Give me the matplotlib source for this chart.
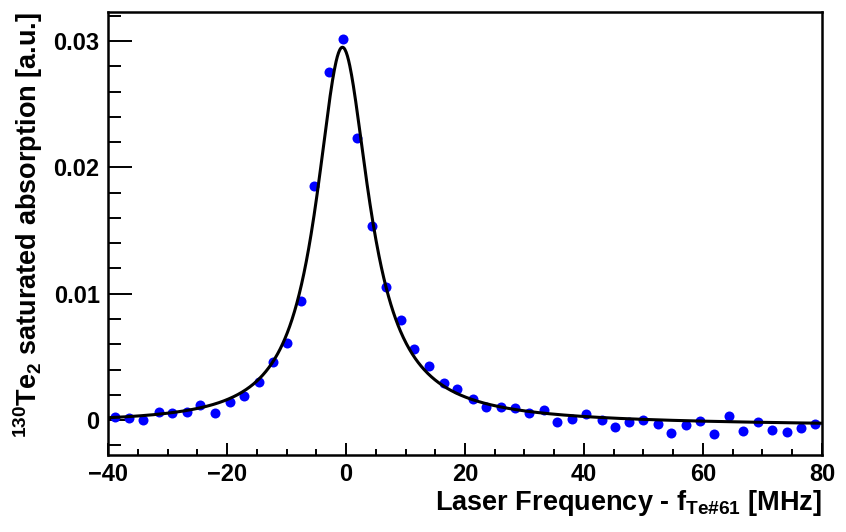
import numpy as np
import matplotlib
matplotlib.use("Agg")
import matplotlib.pyplot as plt
from matplotlib.ticker import MultipleLocator

# Measured saturated-absorption spectrum
freq_mhz = [-38.8, -36.4, -34.1, -31.5, -29.2, -26.8, -24.5, -22.0, -19.5, -17.1,
            -14.7, -12.3, -10.0, -7.6, -5.4, -2.86, -0.45, 1.9, 4.4, 6.7,
            9.2, 11.5, 13.9, 16.4, 18.7, 21.3, 23.6, 26.0, 28.4, 30.8,
            33.2, 35.5, 38.0, 40.3, 43.0, 45.2, 47.6, 50.0, 52.4, 54.7,
            57.1, 59.5, 61.9, 64.4, 66.8, 69.3, 71.6, 74.1, 76.4, 78.8]
absorption = [0.00026, 0.00018, 0.00000, 0.00065, 0.00053, 0.00065, 0.00120, 0.00058, 0.00140, 0.00190,
              0.00301, 0.00457, 0.00612, 0.00942, 0.01853, 0.02753, 0.03017, 0.02230, 0.01536, 0.01050,
              0.00792, 0.00560, 0.00430, 0.00293, 0.00245, 0.00164, 0.00105, 0.00100, 0.00095, 0.00053,
              0.00079, -0.00013, 0.00008, 0.00045, 0.00000, -0.00053, -0.00013, 0.00000, -0.00034, -0.00105,
              -0.00040, -0.00008, -0.00111, 0.00032, -0.00085, -0.00013, -0.00079, -0.00098, -0.00061, -0.00034]

# Fit parameters: Lorentzian line with a small dispersive part on a linear baseline
fit_center = -0.7
fit_gamma = 5.4
fit_amp = 0.0298
fit_disp = 0.006
fit_base0 = -0.0003
fit_base1 = -0.000002

x_ticks = [-40, -20, 0, 20, 40, 60, 80]
y_ticks = [0.0, 0.01, 0.02, 0.03]
y_tick_labels = ["0", "0.01", "0.02", "0.03"]

plt.rcParams["font.family"] = ["Liberation Sans", "DejaVu Sans"]
plt.rcParams["font.weight"] = "bold"
plt.rcParams["axes.labelweight"] = "bold"
plt.rcParams["mathtext.fontset"] = "custom"
plt.rcParams["mathtext.rm"] = "Liberation Sans:bold"
plt.rcParams["mathtext.bf"] = "Liberation Sans:bold"
plt.rcParams["mathtext.it"] = "Liberation Sans:bold"
plt.rcParams["mathtext.default"] = "bf"

fig = plt.figure(figsize=(8.46, 5.32), dpi=100)
ax = fig.add_axes([0.1277, 0.1447, 0.8439, 0.8327])

xf = np.linspace(-40, 80, 1200)
dx = xf - fit_center
fit = (fit_amp * fit_gamma**2 / (dx**2 + fit_gamma**2)
       + fit_disp * dx / (dx**2 + fit_gamma**2)
       + fit_base0 + fit_base1 * xf)

ax.plot(freq_mhz, absorption, "o", color="#0000ff", markersize=7.2,
        markeredgewidth=0, zorder=2)
ax.plot(xf, fit, color="black", lw=2.2, zorder=3)

ax.set_xlim(-40, 80)
ax.set_ylim(-0.00277, 0.0323)
ax.set_xticks(x_ticks)
ax.set_yticks(y_ticks)
ax.set_yticklabels(y_tick_labels)
ax.xaxis.set_minor_locator(MultipleLocator(5))
ax.yaxis.set_minor_locator(MultipleLocator(0.002))

ax.tick_params(axis="both", which="both", direction="in", top=False, right=False,
               labelsize=17, width=1.4, color="black")
ax.tick_params(axis="y", which="major", length=17.3, pad=6)
ax.tick_params(axis="y", which="minor", length=9.4)
ax.tick_params(axis="x", which="major", length=8.6, pad=6)
ax.tick_params(axis="x", which="minor", length=4.3)

for sp in ax.spines.values():
    sp.set_linewidth(1.8)

ax.set_xlabel(r"Laser Frequency - f$_{\mathbf{Te\#61}}$ [MHz]", fontsize=19.5,
              fontweight="bold", loc="right", labelpad=1)
ax.set_ylabel(r"$^{\mathbf{130}}$Te$_{\mathbf{2}}$ saturated absorption [a.u.]",
              fontsize=19.5, fontweight="bold", loc="top", labelpad=6)

fig.savefig("out.png", dpi=100)
